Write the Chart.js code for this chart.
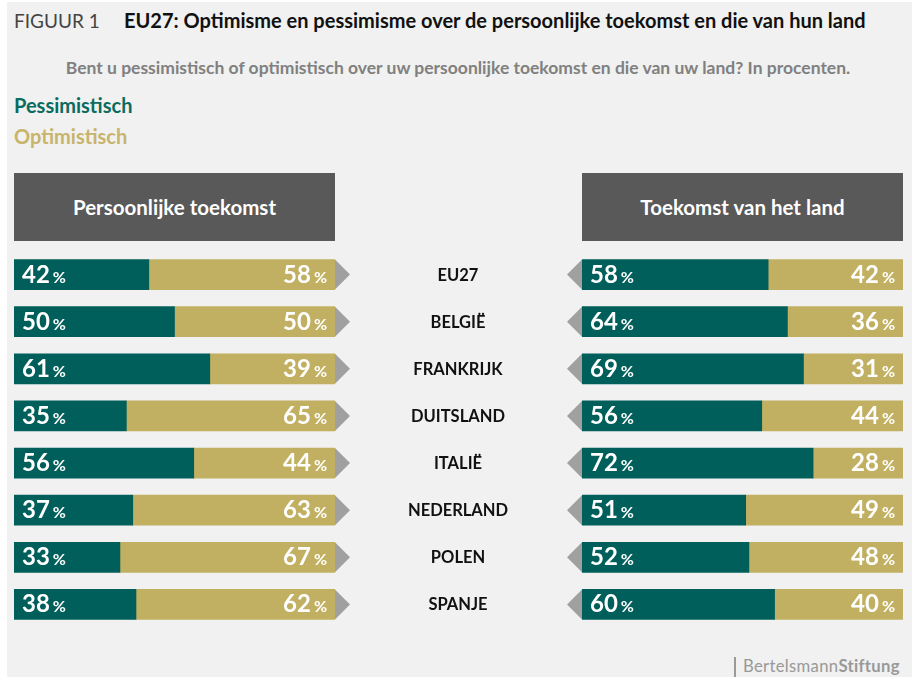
<!DOCTYPE html>
<html>
<head>
<meta charset="utf-8">
<script src="https://cdn.jsdelivr.net/npm/chart.js@4"></script>
<style>
    body { margin: 0; background: #fff; font-family: Lato, sans-serif; }
    #page { position: absolute; left: 0; top: 0; width: 912px; height: 677px; overflow: hidden; }
    #panel { position: absolute; left: 7px; top: 2px; width: 905px; height: 675px; background: #f0f1f0; }
    .txt { position: absolute; white-space: nowrap; line-height: normal; }
    .head { position: absolute; top: 173px; width: 321px; height: 68px; background: #585958; color: #fff;
            font-weight: bold; font-size: 20.5px; line-height: 68px; text-align: center; }
    canvas { position: absolute; }
</style>
</head>
<body>
<div id="page">
    <div id="panel"></div>
    <div class="txt" style="left:14px;top:9px;font-size:19px;color:#444;">FIGUUR 1</div>
    <div class="txt" style="left:124px;top:8px;font-size:20px;font-weight:bold;color:#111;">EU27: Optimisme en pessimisme over de persoonlijke toekomst en die van hun land</div>
    <div class="txt" style="left:0;width:916px;text-align:center;top:57px;font-size:17.5px;font-weight:bold;color:#808080;">Bent u pessimistisch of optimistisch over uw persoonlijke toekomst en die van uw land? In procenten.</div>
    <div class="txt" style="left:14px;top:93px;font-size:20px;font-weight:bold;color:#0b6b5f;">Pessimistisch</div>
    <div class="txt" style="left:14px;top:124px;font-size:20px;font-weight:bold;color:#c8b46a;">Optimistisch</div>
    <div class="head" style="left:14px;">Persoonlijke toekomst</div>
    <div class="head" style="left:582px;">Toekomst van het land</div>
    <canvas id="left" width="520" height="400" style="left:0;top:240px;width:520px;height:400px;"></canvas>
    <canvas id="right" width="372" height="400" style="left:540px;top:240px;width:372px;height:400px;"></canvas>
    <div class="txt" style="left:734px;top:657px;width:2px;height:20px;background:#9a9a9a;"></div>
    <div class="txt" style="left:743px;top:656px;font-size:16.7px;color:#999;letter-spacing:0.3px;">Bertelsmann<b>Stiftung</b></div>
</div>
<script>
    // landen
    var countries = ['EU27', 'BELGIË', 'FRANKRIJK', 'DUITSLAND', 'ITALIË', 'NEDERLAND', 'POLEN', 'SPANJE']
    // persoonlijke toekomst
    var persPess = [42, 50, 61, 35, 56, 37, 33, 38]
    var persOpt = [58, 50, 39, 65, 44, 63, 67, 62]
    // toekomst van het land
    var landPess = [58, 64, 69, 56, 72, 51, 52, 60]
    var landOpt = [42, 36, 31, 44, 28, 49, 48, 40]

    var teal = '#005f5b'
    var gold = '#c2b062'
    var arrowColor = '#a0a0a0'

    // getallen met klein procentteken
    var valueLabels = {
        id: 'valueLabels',
        afterDatasetsDraw: function (chart) {
            var ctx = chart.ctx
            ctx.save()
            ctx.fillStyle = '#fff'
            ctx.textBaseline = 'alphabetic'
            chart.data.datasets.forEach(function (ds, i) {
                var meta = chart.getDatasetMeta(i)
                meta.data.forEach(function (bar, j) {
                    var num = String(ds.data[j])
                    var y = bar.y + 8
                    ctx.font = 'bold 24px Lato'
                    var wNum = ctx.measureText(num).width
                    ctx.font = 'bold 16px Lato'
                    var wPct = ctx.measureText('%').width
                    var x
                    if (i == 0) x = Math.min(bar.base, bar.x) + 8
                    else x = Math.max(bar.base, bar.x) - 8 - wNum - 3 - wPct
                    ctx.textAlign = 'left'
                    ctx.font = 'bold 24px Lato'
                    ctx.fillText(num, x, y)
                    ctx.font = 'bold 16px Lato'
                    ctx.fillText('%', x + wNum + 3, y)
                })
            })
            ctx.restore()
        }
    }

    // grijze pijltjes naast de balken
    var arrows = {
        id: 'arrows',
        afterDatasetsDraw: function (chart, args, opts) {
            var ctx = chart.ctx
            var area = chart.chartArea
            var meta = chart.getDatasetMeta(0)
            ctx.save()
            ctx.fillStyle = arrowColor
            meta.data.forEach(function (bar) {
                var h = 15
                ctx.beginPath()
                if (opts.side == 'right') {
                    ctx.moveTo(area.right, bar.y - h)
                    ctx.lineTo(area.right + 15, bar.y)
                    ctx.lineTo(area.right, bar.y + h)
                } else {
                    ctx.moveTo(area.left, bar.y - h)
                    ctx.lineTo(area.left - 15, bar.y)
                    ctx.lineTo(area.left, bar.y + h)
                }
                ctx.closePath()
                ctx.fill()
            })
            ctx.restore()
        }
    }

    // landnamen in het midden
    var countryNames = {
        id: 'countryNames',
        afterDatasetsDraw: function (chart, args, opts) {
            if (!opts.x) return
            var ctx = chart.ctx
            var meta = chart.getDatasetMeta(0)
            ctx.save()
            ctx.fillStyle = '#111'
            ctx.font = 'bold 16.5px Lato'
            ctx.textAlign = 'center'
            ctx.textBaseline = 'alphabetic'
            meta.data.forEach(function (bar, j) {
                ctx.fillText(chart.data.labels[j], opts.x, bar.y + 6)
            })
            ctx.restore()
        }
    }

    function makeChart(id, pess, opt, padding, side, namesX) {
        var ctx = document.getElementById(id).getContext('2d')
        return new Chart(ctx, {
            type: 'bar',
            data: {
                labels: countries,
                datasets: [
                    { label: 'Pessimistisch', data: pess, backgroundColor: teal, barThickness: 30 },
                    { label: 'Optimistisch', data: opt, backgroundColor: gold, barThickness: 30 }
                ]
            },
            options: {
                indexAxis: 'y',
                responsive: false,
                animation: false,
                layout: { padding: padding },
                scales: {
                    x: { stacked: true, min: 0, max: 100, display: false },
                    y: { stacked: true, display: false }
                },
                plugins: {
                    legend: { display: false },
                    tooltip: { enabled: false },
                    arrows: { side: side },
                    countryNames: { x: namesX }
                }
            },
            plugins: [valueLabels, arrows, countryNames]
        })
    }

    document.fonts.load('bold 22px Lato').then(function () {
        makeChart('left', persPess, persOpt, { left: 14, right: 185, top: 11, bottom: 12 }, 'right', 458)
        makeChart('right', landPess, landOpt, { left: 42, right: 9, top: 11, bottom: 12 }, 'left', 0)
    })
</script>
</body>
</html>
